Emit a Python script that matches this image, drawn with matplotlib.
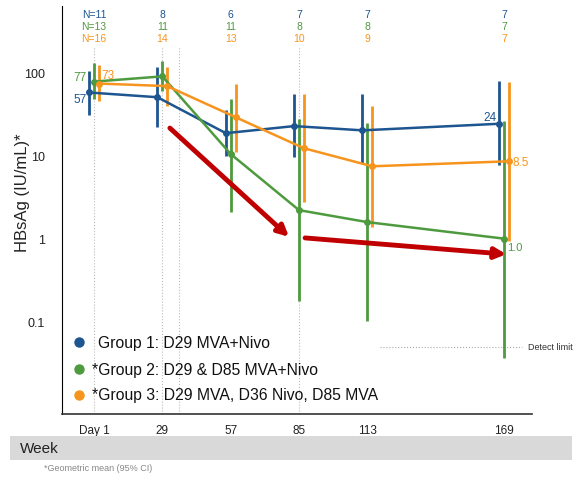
import matplotlib
matplotlib.use("Agg")
import matplotlib.pyplot as plt
import matplotlib.transforms as mtransforms
from matplotlib.patches import Rectangle

plt.rcParams['font.family'] = ['Liberation Sans', 'DejaVu Sans']

# study days and tick labels
days = [1, 29, 57, 85, 113, 169]
day_labels = ["Day 1", "29", "57", "85", "113", "169"]
week_days = [85, 169]
week_labels = ["12", "24"]
vline_days = [1, 29, 36, 85]

# geometric means and 95% CI
g1_mean = [57, 50, 18.5, 22.5, 20, 24]
g1_lo = [30.5, 22, 9.8, 9.5, 8.1, 7.7]
g1_hi = [103, 115, 35, 54.5, 54.5, 78]

g2_mean = [77, 89, 10.4, 2.2, 1.58, 1.0]
g2_lo = [47, 59, 2.08, 0.178, 0.103, 0.037]
g2_hi = [128, 136, 47, 27.3, 24.4, 25.8]

g3_mean = [73, 68, 28.8, 12.2, 7.4, 8.5]
g3_lo = [45, 39, 11, 2.75, 1.38, 0.95]
g3_hi = [121, 115, 71.8, 54.5, 39, 75.9]

# patients per visit
n1 = [11, 8, 6, 7, 7, 7]
n2 = [13, 11, 11, 8, 8, 7]
n3 = [16, 14, 13, 10, 9, 7]

detect_limit = 0.05

blue = '#1d5591'
green = '#4e9b3f'
orange = '#f7941d'
red = '#c00000'

groups = [
    ("Group 1: D29 MVA+Nivo", g1_mean, g1_lo, g1_hi, n1, blue, -2),
    ("*Group 2: D29 & D85 MVA+Nivo", g2_mean, g2_lo, g2_hi, n2, green, 0),
    ("*Group 3: D29 MVA, D36 Nivo, D85 MVA", g3_mean, g3_lo, g3_hi, n3, orange, 2),
]

fig = plt.figure(figsize=(5.74, 4.81), dpi=100)
ax = fig.add_axes([0.108, 0.137, 0.819, 0.848])
ax.set_yscale('log')
ax.set_xlim(-12.1, 180.5)
ax.set_ylim(0.0078, 620)

# dotted guide lines for the dosing days
for d in vline_days:
    ax.plot([d, d], [0, 0.9], transform=ax.get_xaxis_transform(),
            color='#bbbbbb', lw=0.8, ls=':', zorder=0)

# group curves with CI bars
n_rows = [0.981, 0.952, 0.922]
for i, (label, mean, lo, hi, n, col, off) in enumerate(groups):
    x = [d + off for d in days]
    yerr = [[m - l for m, l in zip(mean, lo)], [h - m for m, h in zip(mean, hi)]]
    ax.errorbar(x, mean, yerr=yerr, color=col, lw=1.8, elinewidth=2.0,
                marker='o', markersize=4, capsize=0, zorder=3)
    for j, d in enumerate(days):
        txt = f"N={n[j]}" if j == 0 else str(n[j])
        ax.text(d, n_rows[i], txt, transform=ax.get_xaxis_transform(),
                color=col, fontsize=7.5, ha='center', va='center')

# value labels
ax.annotate("57", (days[0] - 2, g1_mean[0]), xytext=(-9, -7), textcoords='offset pixels',
            color=blue, fontsize=8.5, ha='center', va='center')
ax.annotate("77", (days[0], g2_mean[0]), xytext=(-14, 5), textcoords='offset pixels',
            color=green, fontsize=8.5, ha='center', va='center')
ax.annotate("73", (days[0] + 2, g3_mean[0]), xytext=(9, 9), textcoords='offset pixels',
            color=orange, fontsize=8.5, ha='center', va='center')
ax.annotate("24", (days[-1] - 2, g1_mean[-1]), xytext=(-9, 7), textcoords='offset pixels',
            color=blue, fontsize=8.5, ha='center', va='center')
ax.annotate("8.5", (days[-1] + 2, g3_mean[-1]), xytext=(4, -1), textcoords='offset pixels',
            color=orange, fontsize=8.5, ha='left', va='center')
ax.annotate("1.0", (days[-1], g2_mean[-1]), xytext=(3, -8), textcoords='offset pixels',
            color=green, fontsize=8, ha='left', va='center')

# red trend arrows
arrows = [((32.1, 21.3), (80.9, 1.05)), ((87.5, 1.02), (169.9, 0.65))]
for start, end in arrows:
    ax.annotate("", xy=end, xytext=start,
                arrowprops=dict(arrowstyle='-|>', color=red, lw=3.5,
                                mutation_scale=16, shrinkA=0, shrinkB=0), zorder=4)

# detection limit
ax.plot([118, 176.4], [detect_limit, detect_limit], color='#aaaaaa', lw=0.8, ls=':')
ax.text(178.9, detect_limit, "Detect limit", fontsize=6.5, color='#333333',
        va='center', ha='left', clip_on=False)

# legend drawn by hand to keep the asterisk layout
leg_y = [0.176, 0.110, 0.047]
for (label, mean, lo, hi, n, col, off), yy in zip(groups, leg_y):
    ax.plot([0.036], [yy], marker='o', markersize=6.5, color=col,
            transform=ax.transAxes, clip_on=False)
    xx = 0.077 if not label.startswith('*') else 0.064
    ax.text(xx, yy, label, transform=ax.transAxes, fontsize=11.3,
            color='#111111', va='center', ha='left')

# axes styling
for s in ['top', 'right']:
    ax.spines[s].set_visible(False)
ax.spines['left'].set_color('black')
ax.spines['bottom'].set_color('#333333')
ax.spines['bottom'].set_linewidth(1.2)
ax.set_yticks([0.1, 1, 10, 100])
ax.set_yticklabels(["0.1", "1", "10", "100"])
ax.yaxis.set_minor_locator(matplotlib.ticker.NullLocator())
ax.tick_params(axis='y', length=0, pad=12, labelsize=9, labelcolor='#222222')
ax.set_xticks(days)
ax.set_xticklabels(day_labels)
ax.tick_params(axis='x', length=0, pad=7, labelsize=8.5, labelcolor='#222222')
ax.set_ylabel("HBsAg (IU/mL)*", fontsize=12, color='#222222')
ax.yaxis.set_label_coords(-0.067, 0.545)

# week band under the axis
fig.patches.append(Rectangle((0.017, 0.042), 0.98, 0.0495, transform=fig.transFigure,
                             facecolor='#d9d9d9', edgecolor='none', zorder=0))
fig.text(0.035, 0.0666, "Week", fontsize=11, va='center', ha='left', color='#222222')
band = mtransforms.blended_transform_factory(ax.transData, fig.transFigure)
for d, w in zip(week_days, week_labels):
    ax.text(d, 0.0666, w, transform=band, fontsize=11, ha='center', va='center',
            color='#222222', clip_on=False)

fig.text(0.077, 0.027, "*Geometric mean (95% CI)", fontsize=6.5, color='#888888',
         va='center', ha='left')

fig.savefig("out.png", dpi=100)
